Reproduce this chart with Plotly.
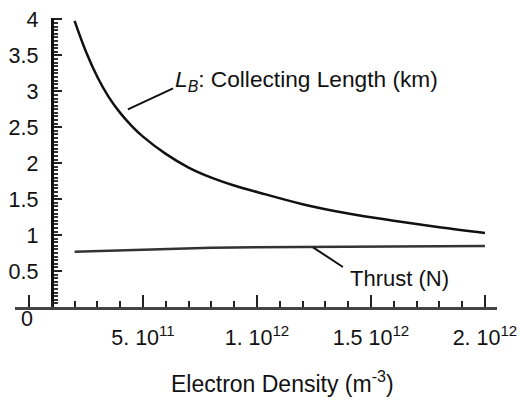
import plotly.graph_objects as go

# Electron density (m^-3)
density = [2.0e11, 2.5e11, 3.0e11, 3.5e11, 4.0e11, 4.5e11, 5.0e11, 6.0e11, 7.0e11,
           8.0e11, 9.0e11, 1.0e12, 1.2e12, 1.4e12, 1.6e12, 1.8e12, 2.0e12]
# L_B: collecting length (km)
collecting_length = [3.98, 3.55, 3.20, 2.92, 2.70, 2.52, 2.37, 2.13, 1.94,
                     1.80, 1.69, 1.60, 1.43, 1.30, 1.20, 1.11, 1.03]
# Thrust (N)
thrust = [0.77, 0.775, 0.78, 0.785, 0.79, 0.795, 0.80, 0.81, 0.815,
          0.825, 0.828, 0.83, 0.835, 0.84, 0.845, 0.85, 0.85]

x_tickvals = [0, 5e11, 1e12, 1.5e12, 2e12]
x_ticktext = ["", "5. 10<sup>11</sup>", "1. 10<sup>12</sup>", "1.5 10<sup>12</sup>", "2. 10<sup>12</sup>"]
origin_label = "0"
y_tickvals = [0.5, 1, 1.5, 2, 2.5, 3, 3.5, 4]
y_ticktext = ["0.5", "1", "1.5", "2", "2.5", "3", "3.5", "4"]

x_range = [-0.614e11, 2.053e12]
y_range = [0, 4.02]
y_axis_at = 1e11

FONT = "Liberation Sans, Arial, sans-serif"

fig = go.Figure()
fig.add_trace(go.Scatter(x=density, y=collecting_length, mode="lines",
                         line=dict(color="#111111", width=2.5, shape="spline"),
                         showlegend=False, hoverinfo="skip"))
fig.add_trace(go.Scatter(x=density, y=thrust, mode="lines",
                         line=dict(color="#333333", width=2.5),
                         showlegend=False, hoverinfo="skip"))

fig.update_layout(
    width=520, height=400,
    margin=dict(l=15, r=23, t=18, b=93, autoexpand=False),
    paper_bgcolor="white", plot_bgcolor="white",
    font=dict(family=FONT, size=21, color="#111111"),
    xaxis=dict(range=x_range, showgrid=False, zeroline=False, automargin=False,
               showline=True, linecolor="#444444", linewidth=3,
               tickmode="array", tickvals=x_tickvals, ticktext=x_ticktext,
               ticks="inside", ticklen=12, tickwidth=2, tickcolor="#222222",
               ticklabelstandoff=9,
               minor=dict(tickmode="linear", tick0=0, dtick=1e11, ticks="inside",
                          ticklen=6, tickwidth=2, tickcolor="#222222"),
               tickfont=dict(size=21.5)),
    yaxis=dict(range=y_range, showgrid=False, zeroline=False, automargin=False,
               anchor="free",
               position=(y_axis_at - x_range[0]) / (x_range[1] - x_range[0]),
               showline=True, linecolor="#111111", linewidth=3,
               tickmode="array", tickvals=y_tickvals, ticktext=y_ticktext,
               ticks="inside", ticklen=8, tickwidth=2, tickcolor="#222222",
               ticklabelstandoff=8,
               minor=dict(tickmode="linear", tick0=0, dtick=0.05, ticks="inside",
                          ticklen=4, tickwidth=1.5, tickcolor="#333333"),
               tickfont=dict(size=21.5)),
)

# leader lines
fig.add_shape(type="line", xref="x", yref="y", x0=4.34e11, y0=2.75, x1=6.32e11, y1=3.04,
              line=dict(color="#111111", width=2))
fig.add_shape(type="line", xref="x", yref="y", x0=12.46e11, y0=0.83, x1=13.77e11, y1=0.556,
              line=dict(color="#111111", width=2))

fig.add_annotation(x=6.32e11, y=3.15, xref="x", yref="y", xanchor="left", yanchor="middle",
                   showarrow=False,
                   text="<i>L</i><sub><i>B</i></sub>: Collecting Length (km)",
                   font=dict(family=FONT, size=22.7, color="#111111"))
fig.add_annotation(x=13.99e11, y=0.40, xref="x", yref="y", xanchor="left", yanchor="middle",
                   showarrow=False, text="Thrust (N)",
                   font=dict(family=FONT, size=22, color="#111111"))
fig.add_annotation(x=11.1e11, y=0, xref="x", yref="paper", xanchor="center", yanchor="middle",
                   yshift=-75, showarrow=False,
                   text="Electron Density (m<sup>-3</sup>)",
                   font=dict(family=FONT, size=23, color="#111111"))
fig.add_annotation(x=0, y=0, xref="x", yref="paper", xanchor="center", yanchor="middle",
                   yshift=-12, xshift=-2, showarrow=False, text=origin_label,
                   font=dict(family=FONT, size=21.5, color="#111111"))

fig.write_html("out.html", post_script="document.body.style.margin='0';",
               config={"displayModeBar": False})
